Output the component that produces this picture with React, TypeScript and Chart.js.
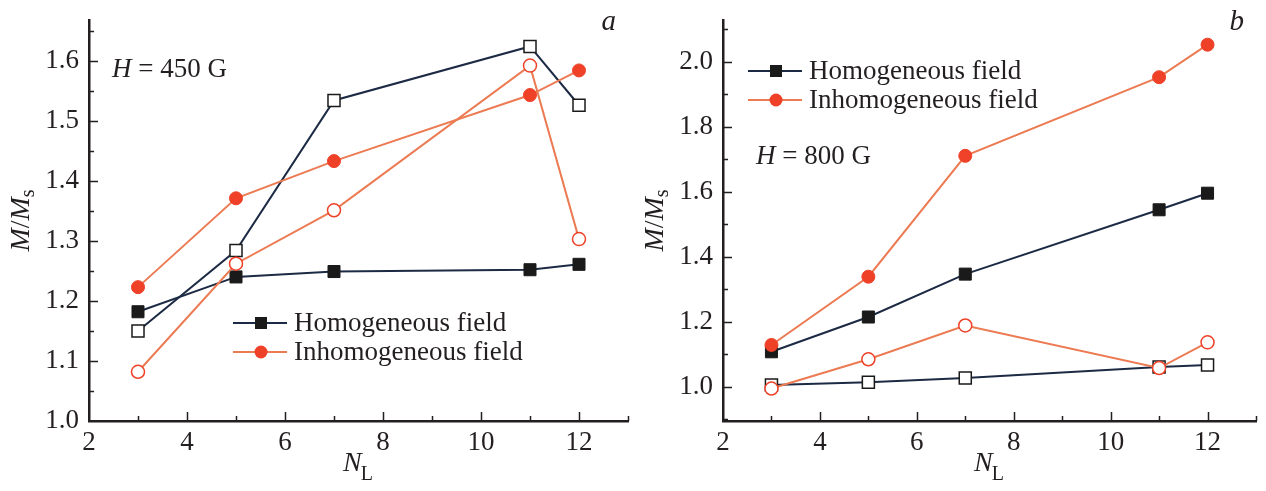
import React, { useEffect, useRef } from 'react';
import { Chart, registerables } from 'chart.js';

Chart.register(...registerables);

// ---------- data ----------
const NL = [3, 5, 7, 11, 12];

// Panel a (H = 450 G)
const A_HOMO_FILLED = [1.182, 1.24, 1.249, 1.252, 1.261];
const A_HOMO_OPEN = [1.15, 1.284, 1.534, 1.624, 1.526];
const A_INHOMO_FILLED = [1.223, 1.371, 1.433, 1.543, 1.584];
const A_INHOMO_OPEN = [1.082, 1.262, 1.351, 1.592, 1.303];

// Panel b (H = 800 G)
const B_HOMO_FILLED = [1.108, 1.215, 1.347, 1.545, 1.596];
const B_HOMO_OPEN = [1.006, 1.014, 1.027, 1.061, 1.067];
const B_INHOMO_FILLED = [1.129, 1.339, 1.711, 1.953, 2.053];
const B_INHOMO_OPEN = [0.995, 1.085, 1.189, 1.058, 1.137];

const X_TICKS = [2, 4, 6, 8, 10, 12];
const A_Y_TICKS = [1.0, 1.1, 1.2, 1.3, 1.4, 1.5, 1.6];
const B_Y_TICKS = [1.0, 1.2, 1.4, 1.6, 1.8, 2.0];

const LEGEND_LABELS = ['Homogeneous field', 'Inhomogeneous field'];
const A_FIELD = '450 G';
const B_FIELD = '800 G';

// ---------- styles ----------
const DARK_LINE = '#1c2a44';
const DARK_MARK = '#1a1a1a';
const RED_LINE = '#ec7a52';
const RED_MARK = '#ee4128';
const SERIF = '"Liberation Serif", "Times New Roman", serif';
const AXIS_COLOR = '#231f20';
const FS = 27;

function makeDatasets(hf: number[], ho: number[], inf: number[], ino: number[]) {
  const pts = (arr: number[]) => NL.map((x, i) => ({ x, y: arr[i] }));
  const common = { showLine: true, tension: 0, borderWidth: 2, fill: false };
  return [
    { ...common, data: pts(ino), borderColor: RED_LINE, pointStyle: 'circle', pointRadius: 6.5,
      pointBackgroundColor: '#ffffff', pointBorderColor: RED_MARK, pointBorderWidth: 1.5 },
    { ...common, data: pts(inf), borderColor: RED_LINE, pointStyle: 'circle', pointRadius: 6.5,
      pointBackgroundColor: RED_MARK, pointBorderColor: RED_MARK, pointBorderWidth: 1 },
    { ...common, data: pts(ho), borderColor: DARK_LINE, pointStyle: 'rect', pointRadius: 8.5,
      pointBackgroundColor: '#ffffff', pointBorderColor: DARK_MARK, pointBorderWidth: 1.5 },
    { ...common, data: pts(hf), borderColor: DARK_LINE, pointStyle: 'rect', pointRadius: 8.5,
      pointBackgroundColor: DARK_MARK, pointBorderColor: DARK_MARK, pointBorderWidth: 1 },
  ];
}

type PanelCfg = {
  letter: string;
  field: string;
  fieldPos: [number, number];
  legendPos: [number, number];
  legendGap: number;
  yMinorStep: number;
  yMajorStep: number;
  yMin: number;
  yMax: number;
  yTitleX: number;
};

function decorPlugin(cfg: PanelCfg) {
  return {
    id: 'decor',
    afterDraw(chart: any) {
      const ctx: CanvasRenderingContext2D = chart.ctx;
      const area = chart.chartArea;
      const xs = chart.scales.x;
      const ys = chart.scales.y;
      ctx.save();
      ctx.strokeStyle = AXIS_COLOR;
      ctx.lineWidth = 1.5;
      for (let v = 3; v <= 13; v++) {
        const px = Math.round(xs.getPixelForValue(v)) + 0.5;
        const len = v % 2 === 0 ? 9 : 5;
        ctx.beginPath();
        ctx.moveTo(px, area.bottom);
        ctx.lineTo(px, area.bottom - len);
        ctx.stroke();
      }
      const n = Math.round((cfg.yMax - 1.0) / cfg.yMinorStep) + 1;
      for (let i = -3; i < n + 2; i++) {
        const v = 1.0 + i * cfg.yMinorStep;
        if (v <= cfg.yMin + 1e-9 || v > cfg.yMax) continue;
        const py = Math.round(ys.getPixelForValue(v)) + 0.5;
        const r = (v - 1.0) / cfg.yMajorStep;
        const len = Math.abs(r - Math.round(r)) < 1e-6 ? 9 : 5;
        ctx.beginPath();
        ctx.moveTo(area.left, py);
        ctx.lineTo(area.left + len, py);
        ctx.stroke();
      }

      ctx.fillStyle = '#231f20';
      ctx.textBaseline = 'middle';
      // x axis title N_L
      const cx = (area.left + area.right) / 2;
      ctx.font = `italic 28px ${SERIF}`;
      const nW = ctx.measureText('N').width;
      ctx.font = `20px ${SERIF}`;
      const lW = ctx.measureText('L').width;
      const startX = cx - (nW + lW) / 2;
      ctx.font = `italic 28px ${SERIF}`;
      ctx.textAlign = 'left';
      ctx.fillText('N', startX, area.bottom + 43);
      ctx.font = `20px ${SERIF}`;
      ctx.fillText('L', startX + nW - 1, area.bottom + 54);

      // y axis title M/M_s
      ctx.save();
      const cy = (area.top + area.bottom) / 2;
      ctx.translate(cfg.yTitleX, cy);
      ctx.rotate(-Math.PI / 2);
      const parts: [string, string, number][] = [
        ['M', `italic 28px ${SERIF}`, 0],
        ['/', `28px ${SERIF}`, 0],
        ['M', `italic 28px ${SERIF}`, 0],
        ['s', `20px ${SERIF}`, 7],
      ];
      let total = 0;
      for (const [t, f] of parts) { ctx.font = f; total += ctx.measureText(t).width; }
      let px = -total / 2;
      for (const [t, f, dy] of parts) {
        ctx.font = f;
        ctx.fillText(t, px, dy);
        px += ctx.measureText(t).width;
      }
      ctx.restore();

      // panel letter
      ctx.font = `italic 29px ${SERIF}`;
      ctx.textAlign = 'right';
      ctx.fillText(cfg.letter, area.right - 12, area.top + 2);

      // field annotation
      ctx.textAlign = 'left';
      ctx.font = `italic ${FS}px ${SERIF}`;
      const fx = area.left + cfg.fieldPos[0];
      const fy = area.top + cfg.fieldPos[1];
      ctx.fillText('H', fx, fy);
      const hW = ctx.measureText('H').width;
      ctx.font = `${FS}px ${SERIF}`;
      ctx.fillText(' = ' + cfg.field, fx + hW, fy);

      // legend
      const ds = chart.data.datasets;
      const entries = [ds[3], ds[1]];
      entries.forEach((d: any, i: number) => {
        const lx = area.left + cfg.legendPos[0];
        const ly = area.top + cfg.legendPos[1] + i * cfg.legendGap;
        ctx.strokeStyle = d.borderColor;
        ctx.lineWidth = 2;
        ctx.beginPath();
        ctx.moveTo(lx, ly);
        ctx.lineTo(lx + 54, ly);
        ctx.stroke();
        ctx.fillStyle = d.pointBackgroundColor;
        const mx = lx + 28;
        if (d.pointStyle === 'rect') {
          ctx.fillRect(mx - 6, ly - 6, 12, 12);
        } else {
          ctx.beginPath();
          ctx.arc(mx, ly, 6.5, 0, Math.PI * 2);
          ctx.fill();
        }
        ctx.fillStyle = '#231f20';
        ctx.font = `${FS}px ${SERIF}`;
        ctx.fillText(LEGEND_LABELS[i], lx + 61, ly + 1);
      });
      ctx.restore();
    },
  };
}

function zeroPad(s: any) {
  s.paddingTop = 0;
  s.paddingBottom = 0;
  s.paddingLeft = 0;
  s.paddingRight = 0;
}

function makeConfig(datasets: any[], cfg: PanelCfg, yTicks: number[], yWidth: number, padRight: number) {
  return {
    type: 'scatter',
    data: { datasets },
    options: {
      responsive: false,
      animation: false,
      devicePixelRatio: 1,
      layout: { padding: { left: 0, top: 20, right: padRight, bottom: 0 } },
      plugins: { legend: { display: false }, tooltip: { enabled: false } },
      scales: {
        x: {
          type: 'linear',
          min: 2,
          max: 13,
          grid: { display: false, drawTicks: false },
          border: { display: true, color: AXIS_COLOR, width: 2.5 },
          afterBuildTicks: (s: any) => { s.ticks = X_TICKS.map((v) => ({ value: v })); },
          afterFit: (s: any) => { s.height = 70; zeroPad(s); },
          ticks: { color: '#231f20', font: { family: SERIF, size: FS }, padding: 6, maxRotation: 0, autoSkip: false,
            callback: (v: any) => String(v) },
        },
        y: {
          type: 'linear',
          min: cfg.yMin,
          max: cfg.yMax,
          grid: { display: false, drawTicks: false },
          border: { display: true, color: AXIS_COLOR, width: 2.5 },
          afterBuildTicks: (s: any) => { s.ticks = yTicks.map((v) => ({ value: v })); },
          afterFit: (s: any) => { s.width = yWidth; zeroPad(s); },
          ticks: { color: '#231f20', font: { family: SERIF, size: FS }, padding: 10, autoSkip: false,
            callback: (v: any) => Number(v).toFixed(1) },
        },
      },
    },
    plugins: [decorPlugin(cfg)],
  };
}

const PANEL_A: PanelCfg = {
  letter: 'a', field: A_FIELD, fieldPos: [23, 50], legendPos: [144, 303], legendGap: 29,
  yMinorStep: 0.05, yMajorStep: 0.1, yMin: 1.0, yMax: 1.668, yTitleX: 22,
};
const PANEL_B: PanelCfg = {
  letter: 'b', field: B_FIELD, fieldPos: [33, 137], legendPos: [25, 51], legendGap: 29,
  yMinorStep: 0.1, yMajorStep: 0.2, yMin: 0.895, yMax: 2.129, yTitleX: 16,
};

export default function App() {
  const refA = useRef<HTMLCanvasElement>(null);
  const refB = useRef<HTMLCanvasElement>(null);
  useEffect(() => {
    const a = new Chart(refA.current as any, makeConfig(
      makeDatasets(A_HOMO_FILLED, A_HOMO_OPEN, A_INHOMO_FILLED, A_INHOMO_OPEN), PANEL_A, A_Y_TICKS, 89, 12) as any);
    const b = new Chart(refB.current as any, makeConfig(
      makeDatasets(B_HOMO_FILLED, B_HOMO_OPEN, B_INHOMO_FILLED, B_INHOMO_OPEN), PANEL_B, B_Y_TICKS, 83, 3) as any);
    return () => { a.destroy(); b.destroy(); };
  }, []);
  return (
    <div style={{ position: 'fixed', left: 0, top: 0, width: 1266, height: 491, background: '#fff' }}>
      <canvas ref={refA} width={640} height={491} style={{ position: 'absolute', left: 0, top: 0 }} />
      <canvas ref={refB} width={626} height={491} style={{ position: 'absolute', left: 640, top: 0 }} />
    </div>
  );
}
